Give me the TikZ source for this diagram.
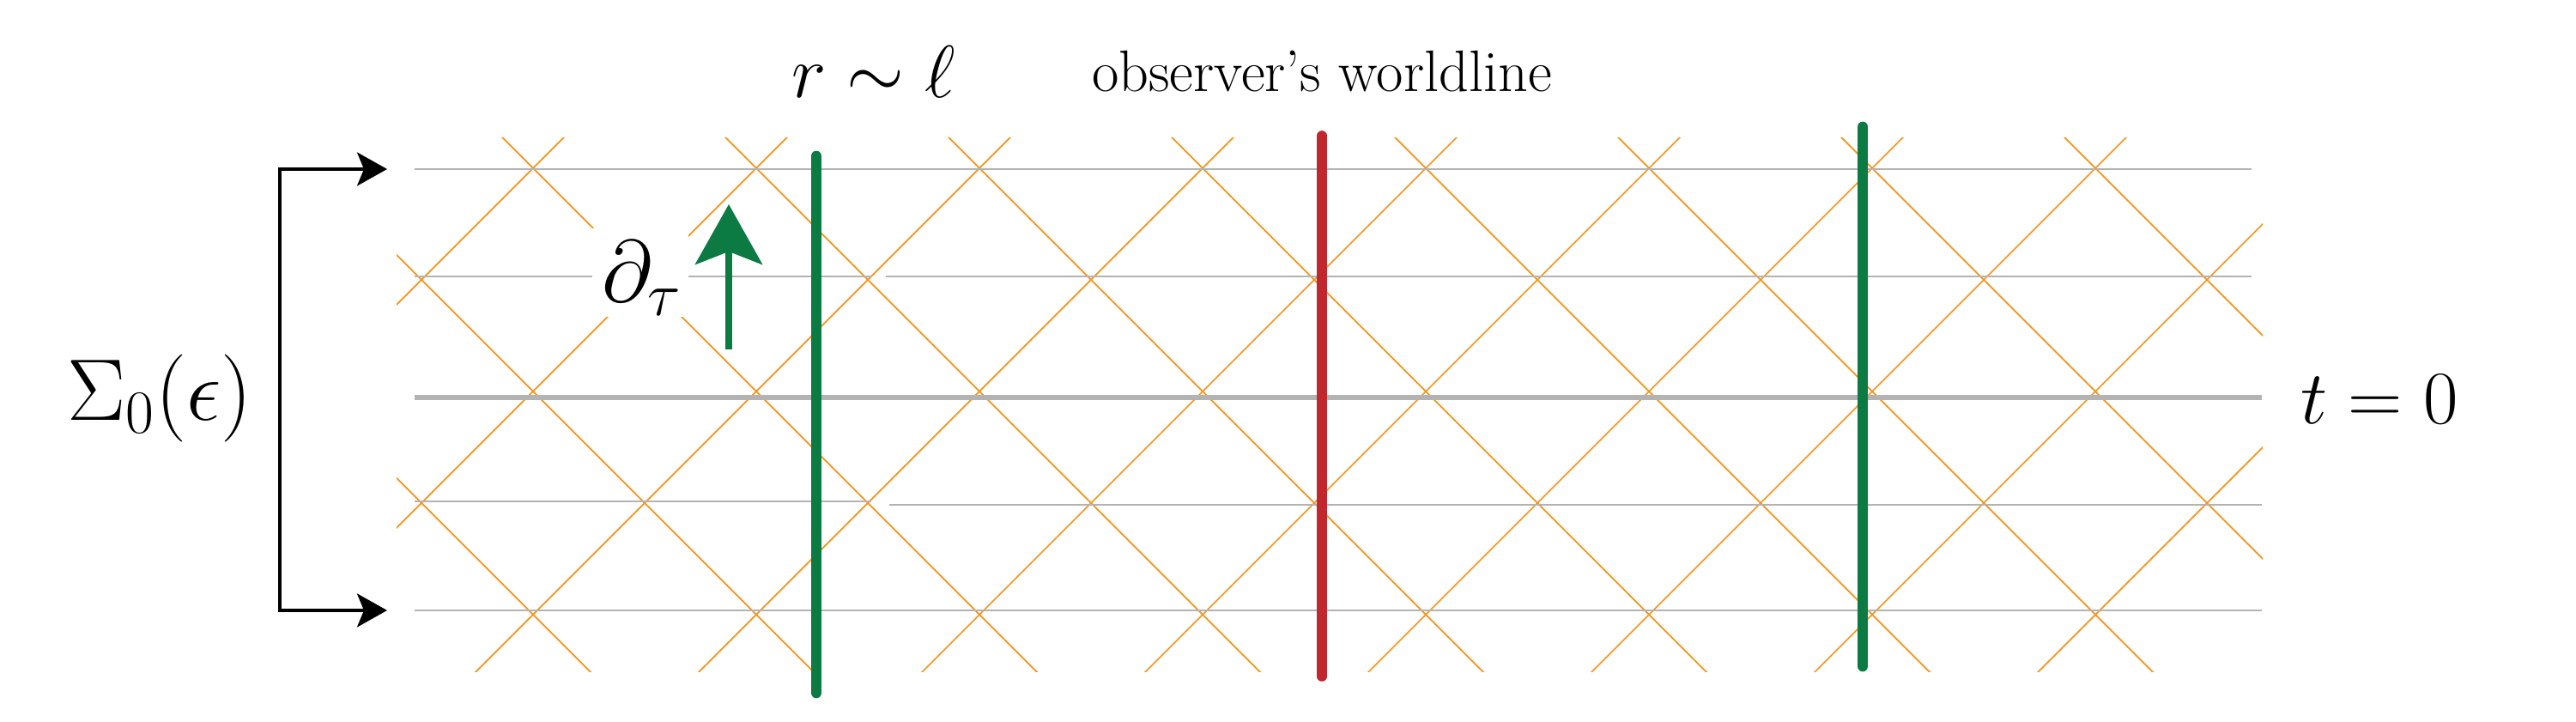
\documentclass[tikz,border=0pt]{standalone}
\usepackage{fix-cm}
\usepackage{amsmath}
\usepackage{tikz}
\usepackage{xcolor}
\usetikzlibrary{arrows.meta}

\definecolor{conecol}{RGB}{247,148,29}
\definecolor{slicecol}{RGB}{179,179,179}
\definecolor{wlgreen}{RGB}{11,122,67}
\definecolor{wlred}{RGB}{193,39,45}

\begin{document}
\begin{tikzpicture}[>={Stealth[length=3.5mm,width=3.9mm,inset=0.8mm]},
    light/.style={draw=conecol, line width=0.5pt},
    slice/.style={draw=slicecol, line width=0.6pt},
    world/.style={line width=3.6pt, line cap=round}]

        \useasboundingbox (0,0) rectangle (30.01,8.41);

        % Lichtkegel
        \begin{scope}
            \clip (4.62,0.58) rectangle (26.36,6.80);
            \foreach \k in {0,...,9}
                \draw[light] ({-0.24+2.6*\k},0) -- ++(8,8);
            \foreach \k in {-1,...,8}
                \draw[light] ({10.06+2.6*\k},0) -- ++(-8,8);
        \end{scope}

        % Flaechen konstanter Zeit
        \draw[slice] (4.83,6.44) -- (26.23,6.44);
        \draw[slice] (4.83,5.19) -- (10.15,5.19);
        \draw[slice] (10.32,5.19) -- (26.23,5.19);
        \draw[slice, line width=1.65pt] (4.83,3.78) -- (26.35,3.78);
        \draw[slice] (4.83,2.57) -- (10.15,2.57);
        \draw[slice] (10.36,2.53) -- (26.35,2.53);
        \draw[slice] (4.83,1.30) -- (26.35,1.30);

        % Platz fuer das Label
        \fill[white] (6.90,4.72) rectangle (8.02,5.75);

        % Weltlinien
        \coordinate (wlAbot) at (9.51,0.34);
        \coordinate (wlAtop) at (9.51,6.59);
        \coordinate (obsbot) at (15.40,0.53);
        \coordinate (obstop) at (15.40,6.83);
        \coordinate (wlBbot) at (21.70,0.65);
        \coordinate (wlBtop) at (21.70,6.93);
        \draw[world, wlgreen] (wlAbot) -- (wlAtop);
        \draw[world, wlred, line width=3.3pt] (obsbot) -- (obstop);
        \draw[world, wlgreen] (wlBbot) -- (wlBtop);

        % Zeitrichtung
        \coordinate (tauS) at (8.49,4.34);
        \coordinate (tauE) at (8.49,6.03);
        \draw[wlgreen, line width=2.3pt, -{Stealth[length=7mm,width=7.8mm,inset=1.5mm]}] (tauS) -- (tauE);

        % Klammer
        \coordinate (sigTop) at (4.51,6.44);
        \coordinate (sigBot) at (4.51,1.30);
        \coordinate (brk) at (3.26,3.78);
        \draw[<->, line width=0.95pt] (sigTop) -| (brk) |- (sigBot);

        % Labels
        \node[font=\fontsize{29}{34}\selectfont] (sigma) at (1.86,3.77) {$\Sigma_0(\epsilon)$};
        \node[font=\fontsize{25}{30}\selectfont, anchor=base] (tzero) at (27.72,3.47) {$t=0$};
        \node[font=\fontsize{29}{34}\selectfont, anchor=base] (dtau) at (7.48,4.89) {$\partial_\tau$};
        \node[font=\fontsize{24.5}{29}\selectfont, anchor=base] (rell) at (10.18,7.27) {$r\sim\ell$};
        \node[font=\fontsize{19.4}{23}\selectfont, anchor=base] (obs) at (15.40,7.34) {observer's worldline};

    \end{tikzpicture}
\end{document}
